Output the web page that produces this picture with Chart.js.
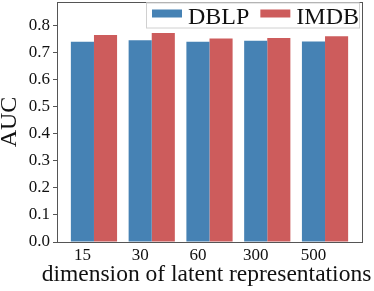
<!DOCTYPE html>
<html>
<head>
<meta charset="utf-8">
<script src="https://cdn.jsdelivr.net/npm/chart.js@4/dist/chart.umd.min.js"></script>
<style>
  html, body { margin: 0; padding: 0; background: #fff; }
  #wrap { width: 374px; height: 291px; }
</style>
</head>
<body>
<div id="wrap"><canvas id="chart" width="374" height="291"></canvas></div>
<script>
// data
const categories = ["15", "30", "60", "300", "500"];
const dblp = [0.738, 0.744, 0.738, 0.742, 0.739];
const imdb = [0.763, 0.771, 0.750, 0.752, 0.759];
const yTicks = [0.0, 0.1, 0.2, 0.3, 0.4, 0.5, 0.6, 0.7, 0.8];
const xTitle = "dimension of latent representations";

const serif = "'Liberation Serif', 'Times New Roman', serif";
// tick sits under the first bar of each group, like the original
const groupShift = 0.2;

// frame round the plot, legend inside it, and the x title
// (chart.js squeezes axis titles to the axis width, the original runs wider)
const framePlugin = {
  id: "frame",
  afterDraw(chart) {
    const ctx = chart.ctx;
    const a = chart.chartArea;
    ctx.save();
    ctx.strokeStyle = "#555";
    ctx.lineWidth = 1;
    ctx.strokeRect(Math.round(a.left) + 0.5, Math.round(a.top) + 0.5,
      Math.round(a.right - a.left), Math.round(a.bottom - a.top));

    // legend box
    const bx = a.right - 216, by = a.top + 0.5, bw = 213, bh = 25;
    ctx.fillStyle = "rgba(255,255,255,0.8)";
    ctx.fillRect(bx, by, bw, bh);
    ctx.strokeStyle = "#d0d0d0";
    ctx.strokeRect(bx + 0.5, by + 0.5, bw, bh);
    ctx.font = "24px " + serif;
    ctx.textBaseline = "alphabetic";
    let x = bx + 6;
    chart.data.datasets.forEach(ds => {
      ctx.fillStyle = ds.backgroundColor;
      ctx.fillRect(x, by + 7, 30, 8);
      ctx.fillStyle = "#111";
      ctx.fillText(ds.label, x + 36, by + 21);
      x += 36 + ctx.measureText(ds.label).width + 11;
    });

    // x axis title
    ctx.font = "23.5px " + serif;
    ctx.fillStyle = "#111";
    ctx.textAlign = "center";
    ctx.fillText(xTitle, (a.left + a.right) / 2 - 3, a.bottom + 38.5);
    ctx.restore();
  }
};

new Chart(document.getElementById("chart"), {
  type: "bar",
  data: {
    datasets: [
      {
        label: "DBLP",
        data: categories.map((c, i) => ({ x: i + groupShift, y: dblp[i] })),
        backgroundColor: "#4682b4",
        borderWidth: 0,
      },
      {
        label: "IMDB",
        data: categories.map((c, i) => ({ x: i + groupShift, y: imdb[i] })),
        backgroundColor: "#cd5c5c",
        borderWidth: 0,
      },
    ],
  },
  options: {
    responsive: false,
    animation: false,
    layout: { padding: { top: 2, right: 12, left: 0, bottom: 0 } },
    datasets: { bar: { categoryPercentage: 0.8, barPercentage: 1.0 } },
    plugins: {
      legend: { display: false },
      tooltip: { enabled: false },
    },
    scales: {
      x: {
        type: "linear",
        offset: false,
        min: -0.44,
        max: 4.84,
        afterBuildTicks: s => { s.ticks = categories.map((c, i) => ({ value: i })); },
        afterFit: s => { s.height = 49; s.paddingLeft = 0; s.paddingRight = 0; },
        grid: { display: false, drawTicks: false },
        border: { display: false },
        ticks: {
          color: "#111",
          font: { family: serif, size: 17 },
          padding: 3,
          maxRotation: 0,
          callback: v => categories[v],
        },
        title: { display: false },
      },
      y: {
        min: 0,
        max: 0.885,
        afterBuildTicks: s => { s.ticks = yTicks.map(v => ({ value: v })); },
        afterFit: s => { s.width = 57; s.paddingTop = 0; s.paddingBottom = 0; },
        grid: {
          drawOnChartArea: false,
          drawTicks: true,
          tickLength: 4,
          color: "#555",
        },
        border: { display: false },
        ticks: {
          color: "#111",
          font: { family: serif, size: 17 },
          padding: 3,
          callback: v => v.toFixed(1),
        },
        title: {
          display: true,
          text: "AUC",
          color: "#111",
          font: { family: serif, size: 24 },
          padding: { top: -5, bottom: 0 },
        },
      },
    },
  },
  plugins: [framePlugin],
});
</script>
</body>
</html>
